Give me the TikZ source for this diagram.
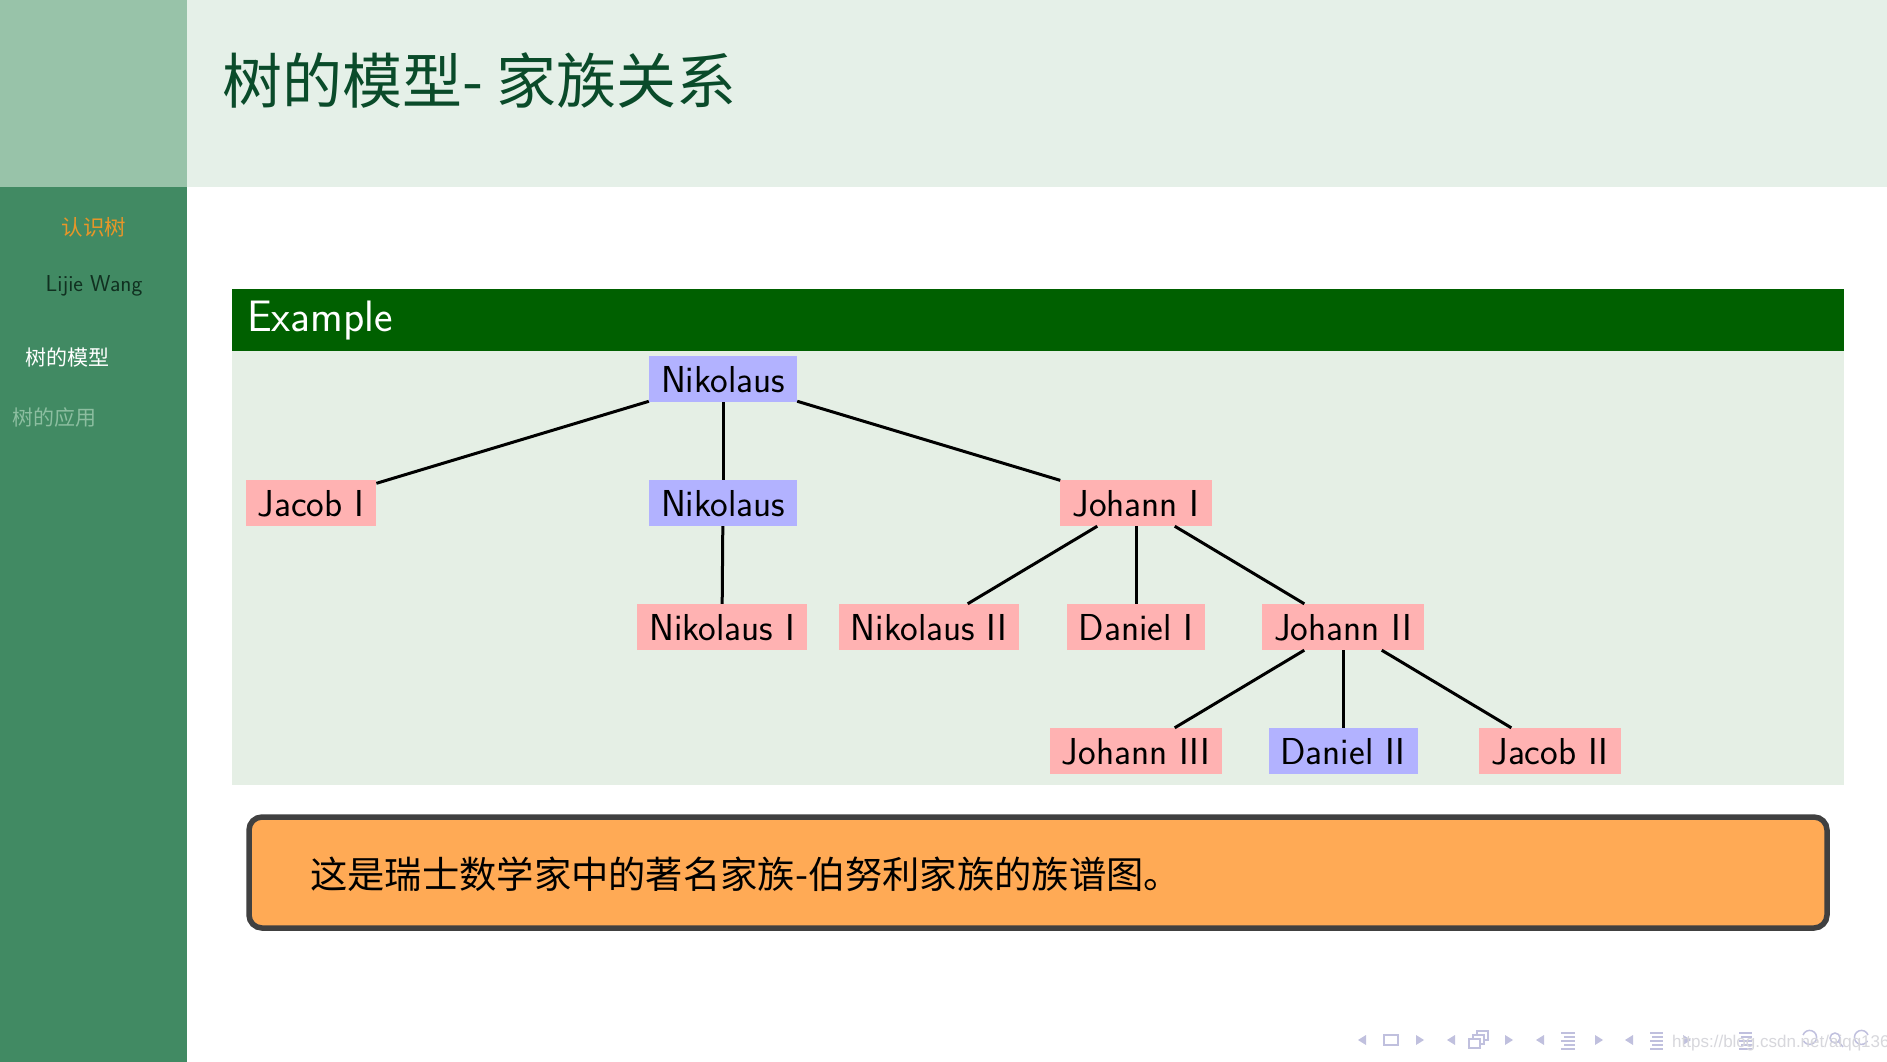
\documentclass[tikz,border=0pt]{standalone}
\usepackage{fontspec}
\newfontfamily\cjk{Noto Sans CJK SC}
\newfontfamily\wmfont{Liberation Sans}
\definecolor{sidetop}{RGB}{152,195,169}
\definecolor{sidebg}{RGB}{65,138,99}
\definecolor{headbg}{RGB}{229,240,232}
\definecolor{titlec}{RGB}{10,75,42}
\definecolor{sideorange}{RGB}{232,150,40}
\definecolor{sidedark}{RGB}{16,48,32}
\definecolor{sidefade}{RGB}{140,190,160}
\definecolor{blocktitle}{RGB}{0,96,0}
\definecolor{blockbody}{RGB}{229,239,229}
\definecolor{boxorange}{RGB}{255,170,85}
\definecolor{boxborder}{RGB}{64,64,64}
\definecolor{navc}{RGB}{192,192,222}
\definecolor{wmark}{RGB}{215,215,220}
\begin{document}
\begin{tikzpicture}[x=1pt,y=-1pt,
  pers/.style={rectangle, minimum height=46pt, inner xsep=12pt, inner ysep=0pt,
    font=\sffamily\fontsize{37.5}{42}\selectfont, text height=26pt, text depth=0pt},
  rp/.style={pers, fill=red!30},
  bp/.style={pers, fill=blue!30},
  link/.style={line width=3pt, black},
  navtri/.style={fill=navc},
  navline/.style={draw=navc, line width=1.6pt}
]
\useasboundingbox (0,0) rectangle (1887,1062);
% backgrounds
\fill[white] (0,0) rectangle (1887,1062);
\fill[headbg] (187,0) rectangle (1887,187);
\fill[sidetop] (0,0) rectangle (187,187);
\fill[sidebg] (0,187) rectangle (187,1062);
% title
\node[anchor=west, text=titlec, font=\cjk\fontsize{60}{66}\selectfont, inner sep=0pt] (title) at (222,80) {树的模型- 家族关系};
% sidebar
\node[text=sideorange, font=\cjk\fontsize{21.5}{24}\selectfont, inner sep=0pt] (s1) at (94,227) {认识树};
\node[text=sidedark, font=\sffamily\fontsize{23}{26}\selectfont, inner sep=0pt] (s2) at (94,286) {Lijie Wang};
\node[anchor=west, text=white, font=\cjk\fontsize{21}{24}\selectfont, inner sep=0pt] (s3) at (25,357) {树的模型};
\node[anchor=west, text=sidefade, font=\cjk\fontsize{21}{24}\selectfont, inner sep=0pt] (s4) at (12,418) {树的应用};
% block
\fill[blocktitle] (232,289) rectangle (1844,351);
\fill[blockbody] (232,351) rectangle (1844,785);
\node[anchor=west, text=white, font=\sffamily\fontsize{44}{48}\selectfont, inner sep=0pt] (ex) at (247,321) {Example};
% tree
\node[bp] (root) at (723,379) {Nikolaus};
\node[rp] (jac1) at (311,503) {Jacob I};
\node[bp] (nik) at (723,503) {Nikolaus};
\node[rp] (joh1) at (1136,503) {Johann I};
\node[rp] (nik1) at (722,627) {Nikolaus I};
\node[rp] (nik2) at (929,627) {Nikolaus II};
\node[rp] (dan1) at (1136,627) {Daniel I};
\node[rp] (joh2) at (1343,627) {Johann II};
\node[rp] (joh3) at (1136,751) {Johann III};
\node[bp] (dan2) at (1343,751) {Daniel II};
\node[rp] (jac2) at (1550,751) {Jacob II};
\draw[link] (root) -- (jac1);
\draw[link] (root) -- (nik);
\draw[link] (root) -- (joh1);
\draw[link] (nik) -- (nik1);
\draw[link] (joh1) -- (nik2);
\draw[link] (joh1) -- (dan1);
\draw[link] (joh1) -- (joh2);
\draw[link] (joh2) -- (joh3);
\draw[link] (joh2) -- (dan2);
\draw[link] (joh2) -- (jac2);
% orange box
\draw[fill=boxorange, draw=boxborder, line width=5.5pt, rounded corners=13pt] (249,817) rectangle (1827,928);
\node[anchor=west, font=\cjk\fontsize{37.3}{42}\selectfont, inner sep=0pt] (note) at (310,874) {这是瑞士数学家中的著名家族-伯努利家族的族谱图。};
% navigation icons
\begin{scope}[shift={(0,5)}]
\fill[navtri] (1366,1030) -- (1358,1035) -- (1366,1040) -- cycle;
\draw[navc, line width=1.5pt] (1384,1030) rectangle (1398,1040);
\fill[navtri] (1416,1030) -- (1424,1035) -- (1416,1040) -- cycle;
\fill[navtri] (1455,1030) -- (1447,1035) -- (1455,1040) -- cycle;
\draw[navc, line width=1.3pt, fill=white] (1477,1026) rectangle (1488,1035);
\draw[navc, line width=1.3pt, fill=white] (1473,1030) rectangle (1484,1039);
\draw[navc, line width=1.3pt, fill=white] (1469,1034) rectangle (1480,1043);
\fill[navtri] (1505,1030) -- (1513,1035) -- (1505,1040) -- cycle;
\fill[navtri] (1544,1030) -- (1536,1035) -- (1544,1040) -- cycle;
\draw[navline] (1561,1028) -- (1575,1028) (1564,1032) -- (1575,1032) (1561,1036) -- (1575,1036) (1564,1040) -- (1575,1040) (1561,1044) -- (1575,1044);
\fill[navtri] (1595,1030) -- (1603,1035) -- (1595,1040) -- cycle;
\fill[navtri] (1633,1030) -- (1625,1035) -- (1633,1040) -- cycle;
\draw[navline] (1650,1028) -- (1663,1028) (1652,1032) -- (1663,1032) (1650,1036) -- (1663,1036) (1652,1040) -- (1663,1040) (1650,1044) -- (1663,1044);
\fill[navtri] (1683,1030) -- (1691,1035) -- (1683,1040) -- cycle;
\draw[navline] (1739,1028) -- (1752,1028) (1741,1032) -- (1752,1032) (1739,1036) -- (1752,1036) (1741,1040) -- (1752,1040) (1739,1044) -- (1752,1044);
\draw[navc, line width=1.5pt] (1803,1030) arc[start angle=160, end angle=-150, radius=7pt];
\draw[navc, line width=1.5pt] (1835,1033) circle[radius=5pt] (1839,1037) -- (1843,1042);
\draw[navc, line width=1.5pt] (1868,1030) arc[start angle=20, end angle=330, radius=7pt];
\node[anchor=west, text=wmark, font=\wmfont\fontsize{17}{20}\selectfont, inner sep=0pt] (wm) at (1672,1038) {https://blog.csdn.net/aiqq136};
\end{scope}
\end{tikzpicture}
\end{document}
